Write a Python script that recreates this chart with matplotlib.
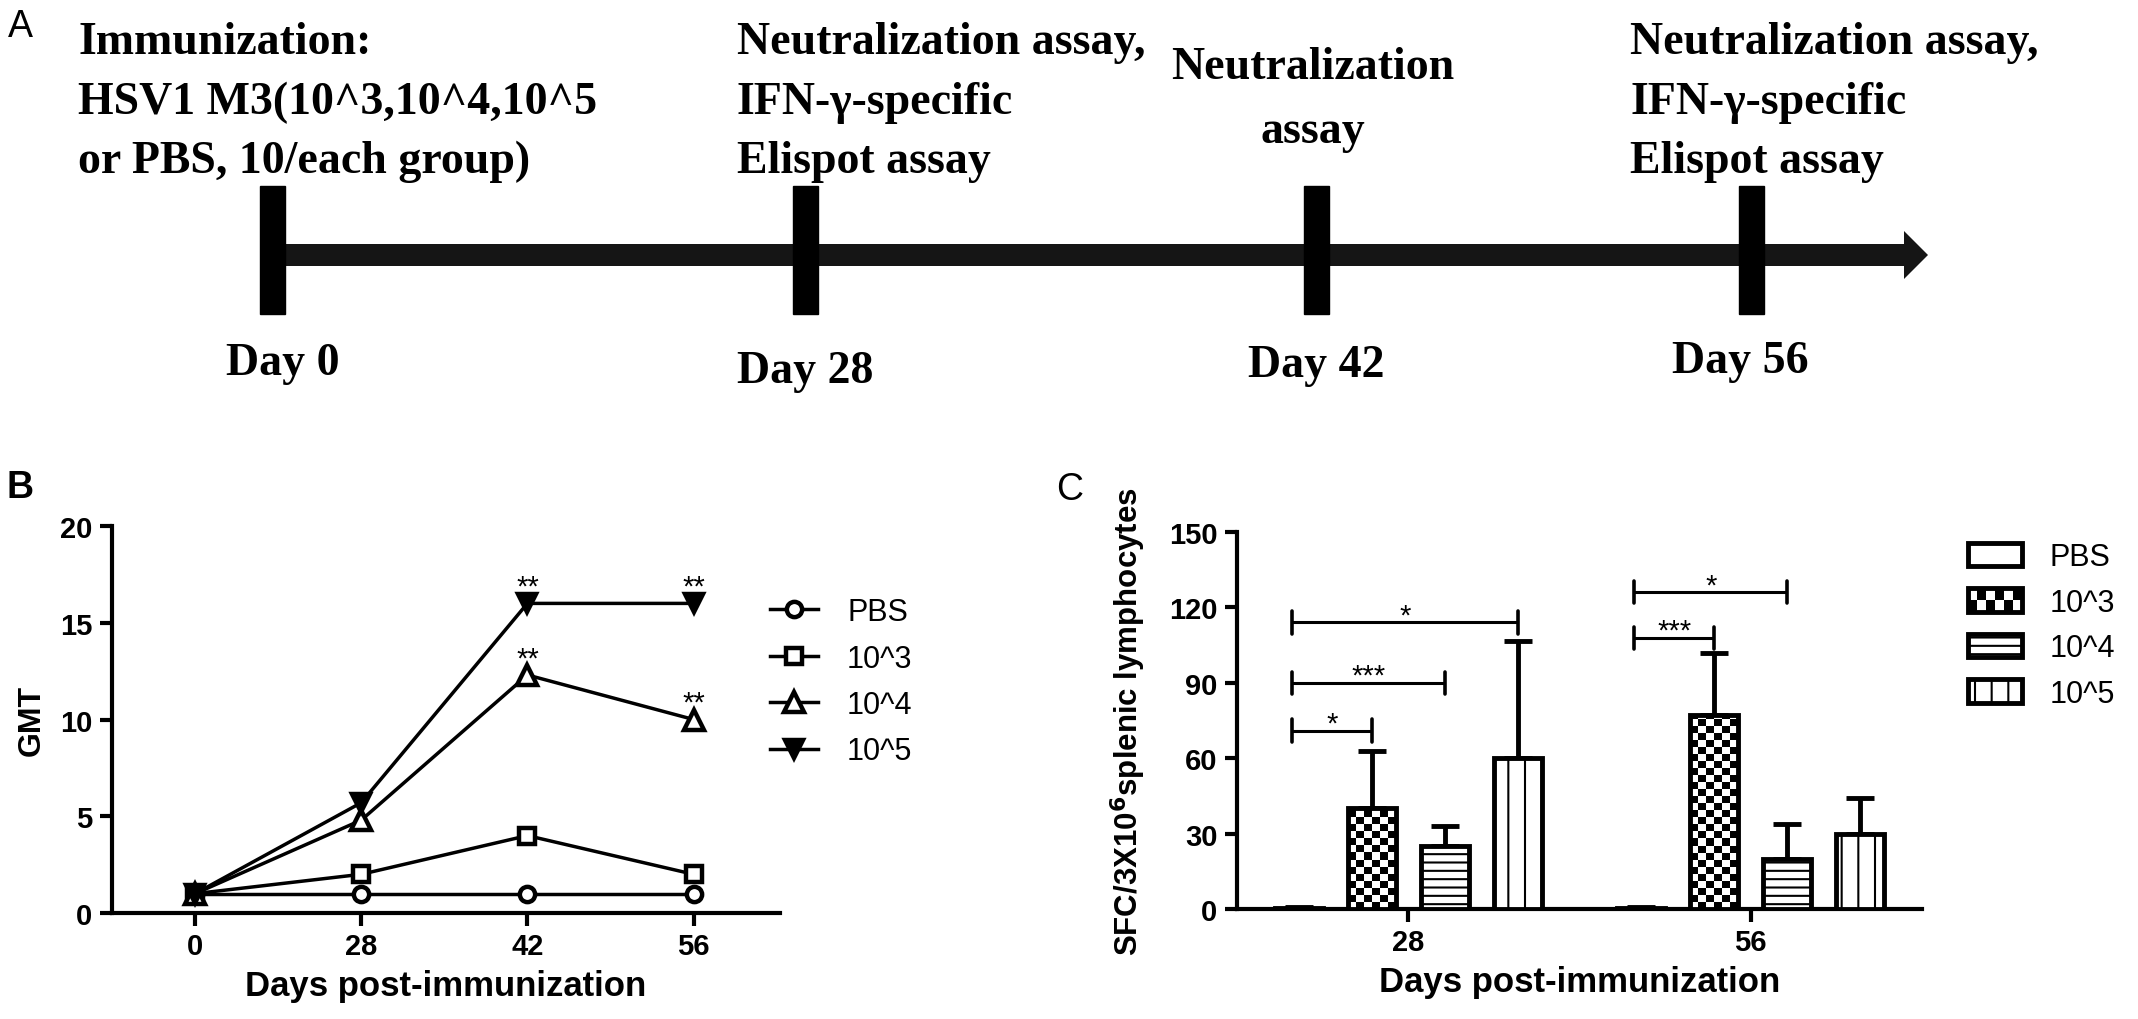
import numpy as np
import matplotlib
matplotlib.use('Agg')
import matplotlib.pyplot as plt
from matplotlib.patches import Rectangle, FancyArrow
from matplotlib.legend_handler import HandlerBase

plt.rcParams['font.family'] = ['Liberation Sans', 'DejaVu Sans']
plt.rcParams['font.weight'] = 'bold'
plt.rcParams['axes.labelweight'] = 'bold'
plt.rcParams['hatch.linewidth'] = 1.5

# ---- panel A: timeline ----
timeline_days = ['Day 0', 'Day 28', 'Day 42', 'Day 56']
timeline_notes = [
    ['Immunization:', 'HSV1 M3(10^3,10^4,10^5', 'or PBS, 10/each group)'],
    ['Neutralization assay,', 'IFN-\u03b3-specific', 'Elispot assay'],
    ['Neutralization', 'assay'],
    ['Neutralization assay,', 'IFN-\u03b3-specific', 'Elispot assay'],
]

# ---- panel B: GMT ----
groups = ['PBS', '10^3', '10^4', '10^5']
gmt_days = ['0', '28', '42', '56']
gmt_pbs = [1, 1, 1, 1]
gmt_1e3 = [1, 2, 4, 2]
gmt_1e4 = [1, 4.8, 12.3, 10]
gmt_1e5 = [1, 5.7, 16, 16]
star_series = [3, 3, 2, 2]
star_point = [2, 3, 2, 3]
star_text = ['**', '**', '**', '**']

# ---- panel C: Elispot ----
elispot_days = ['28', '56']
spot_pbs = [0.5, 0.5]
spot_1e3 = [40, 77]
spot_1e4 = [25, 20]
spot_1e5 = [60, 30]
err_pbs = [0.4, 0.4]
err_1e3 = [23, 25]
err_1e4 = [8, 14]
err_1e5 = [46.5, 14]
bracket_day = [0, 0, 0, 1, 1]
bracket_to = [1, 2, 3, 1, 2]
bracket_y = [71, 90, 114, 108, 126]
bracket_text = ['*', '***', '*', '***', '*']

W, H = 2138, 1020
fig = plt.figure(figsize=(W / 100, H / 100), dpi=100)

# full-figure axes in pixel units for the timeline and panel letters
axA = fig.add_axes([0, 0, 1, 1])
axA.set_xlim(0, W)
axA.set_ylim(H, 0)
axA.axis('off')

tl_x = [272, 805, 1316, 1751]
day_dx = [11, 0, 0, -11]
day_y = [364, 372, 366, 362]
line_y = 256
axA.add_patch(FancyArrow(tl_x[0], line_y, 1928 - tl_x[0], 0, width=22, head_width=48,
                         head_length=24, length_includes_head=True, color='#151515', lw=0))
serif = dict(family='Liberation Serif', weight='bold', size=33)
note_x = [78, 737, 1313, 1630]
note_ha = ['left', 'left', 'center', 'left']
for i, x in enumerate(tl_x):
    axA.add_patch(Rectangle((x - 12.5, 187), 25, 128, color='black'))
    axA.text(x + day_dx[i], day_y[i], timeline_days[i], ha='center', va='center', **serif)
    lines = timeline_notes[i]
    ys = [43, 103, 162] if len(lines) == 3 else [68, 132]
    for ln, y in zip(lines, ys):
        axA.text(note_x[i], y, ln, ha=note_ha[i], va='center', **serif)

for lab, (x, y), fw in zip(['A', 'B', 'C'], [(20, 27), (20, 488), (1070, 490)],
                           ['normal', 'bold', 'normal']):
    axA.text(x, y, lab, ha='center', va='center', fontsize=27, fontweight=fw)

# ---- panel B ----
axB = fig.add_axes([112 / W, 1 - 914 / H, (780 - 112) / W, (914 - 527) / H])
xs = np.arange(len(gmt_days))
gmt = [gmt_pbs, gmt_1e3, gmt_1e4, gmt_1e5]
markers = ['o', 's', '^', 'v']
msizes = [11, 12, 14, 13]
faces = ['white', 'white', 'white', 'black']
for vals, m, ms, fc, lab in zip(gmt, markers, msizes, faces, groups):
    axB.plot(xs, vals, color='black', lw=2.5, marker=m, ms=ms, mfc=fc, mec='black',
             mew=3.2, label=lab, clip_on=False, zorder=3)
for s, p, t in zip(star_series, star_point, star_text):
    axB.annotate(t, (xs[p], gmt[s][p]), xytext=(0, 2), textcoords='offset points',
                 ha='center', va='bottom', fontsize=21, fontweight='normal')
axB.set_xlim(-0.5, 3.52)
axB.set_ylim(0, 20)
axB.set_yticks([0, 5, 10, 15, 20])
axB.set_xticks(xs, gmt_days)
axB.set_ylabel('GMT', fontsize=23, labelpad=10)
axB.set_xlabel('Days post-immunization', fontsize=25, labelpad=6)
fig.legend(*axB.get_legend_handles_labels(), loc='upper left',
           bbox_to_anchor=(770 / W, 1 - 598 / H), frameon=False, borderpad=0,
           borderaxespad=0, handlelength=1.57, handletextpad=0.95, labelspacing=0.54,
           prop={'size': 22, 'weight': 'normal'})

# ---- panel C ----
axC = fig.add_axes([1237 / W, 1 - 910 / H, (1922 - 1237) / W, (910 - 533) / H])
x0 = np.arange(len(elispot_days))
offsets = (np.arange(4) - 1.5) * 0.2135
width = 0.14
spots = [spot_pbs, spot_1e3, spot_1e4, spot_1e5]
errs = [err_pbs, err_1e3, err_1e4, err_1e5]
hatches = ['', '', '--', '|']
for i in range(4):
    xi = x0 + offsets[i]
    face = axC.bar(xi, spots[i], width, facecolor='white', linewidth=0, zorder=3)
    axC.bar(xi, spots[i], width, fill=False, edgecolor='black', linewidth=3.5,
            hatch=hatches[i], zorder=4)
    axC.errorbar(xi, spots[i], yerr=[np.zeros(len(xi)), errs[i]], fmt='none', ecolor='black',
                 elinewidth=3.5, capsize=10, capthick=3.5, zorder=2)
    if i == 1:
        # checkerboard fill
        for b in face:
            bx, bw, bh = b.get_x(), b.get_width(), b.get_height()
            ncols, cell_h = 6, 2.8
            nrows = int(np.ceil(bh / cell_h))
            chk = np.add.outer(np.arange(nrows), np.arange(ncols)) % 2
            im = axC.imshow(chk, extent=(bx, bx + bw, 0, nrows * cell_h), origin='lower',
                            cmap='gray_r', interpolation='nearest', aspect='auto', zorder=3.5)
            im.set_clip_path(b)

for d, t, y, s in zip(bracket_day, bracket_to, bracket_y, bracket_text):
    xl = x0[d] + offsets[0] - 0.02
    xr = x0[d] + offsets[t]
    axC.plot([xl, xr], [y, y], color='black', lw=2.2, solid_capstyle='butt')
    for xe in (xl, xr):
        axC.plot([xe, xe], [y - 4.4, y + 4.4], color='black', lw=2.6, solid_capstyle='round')
    axC.annotate(s, ((xl + xr) / 2, y), xytext=(0, -5), textcoords='offset points',
                 ha='center', va='bottom', fontsize=21, fontweight='normal')

axC.set_xlim(-0.5, 1.5)
axC.set_ylim(0, 150)
axC.set_yticks(np.arange(0, 151, 30))
axC.set_xticks(x0, elispot_days)
axC.set_ylabel('SFC/3X10$^{\\mathbf{6}}$splenic lymphocytes', fontsize=22.5, labelpad=15)
axC.set_xlabel('Days post-immunization', fontsize=25, labelpad=6)


class HandlerChecker(HandlerBase):
    def create_artists(self, legend, orig_handle, xdescent, ydescent, width, height,
                       fontsize, trans):
        x, y = -xdescent, -ydescent
        arts = [Rectangle((x, y), width, height, facecolor='white', lw=0, transform=trans)]
        n, m = 6, 2
        for a in range(n):
            for b in range(m):
                if (a + b) % 2 == 0:
                    arts.append(Rectangle((x + a * width / n, y + b * height / m), width / n,
                                          height / m, facecolor='black', lw=0, transform=trans))
        arts.append(Rectangle((x, y), width, height, fill=False, edgecolor='black', lw=3.5,
                              transform=trans))
        return arts


proxies = [Rectangle((0, 0), 1, 1, facecolor='white', edgecolor='black', lw=3.5, hatch=h)
           for h in hatches]
fig.legend(proxies, groups, loc='upper left', bbox_to_anchor=(1968 / W, 1 - 543 / H),
           frameon=False, borderpad=0, borderaxespad=0, handlelength=1.76, handleheight=0.82,
           handletextpad=0.9, labelspacing=0.51, prop={'size': 22, 'weight': 'normal'},
           handler_map={proxies[1]: HandlerChecker()})

for ax in (axB, axC):
    for sp in ('top', 'right'):
        ax.spines[sp].set_visible(False)
    for sp in ('left', 'bottom'):
        ax.spines[sp].set_linewidth(3)
    ax.tick_params(width=3, length=9, labelsize=21, pad=5)

fig.savefig('out.png', dpi=100)
